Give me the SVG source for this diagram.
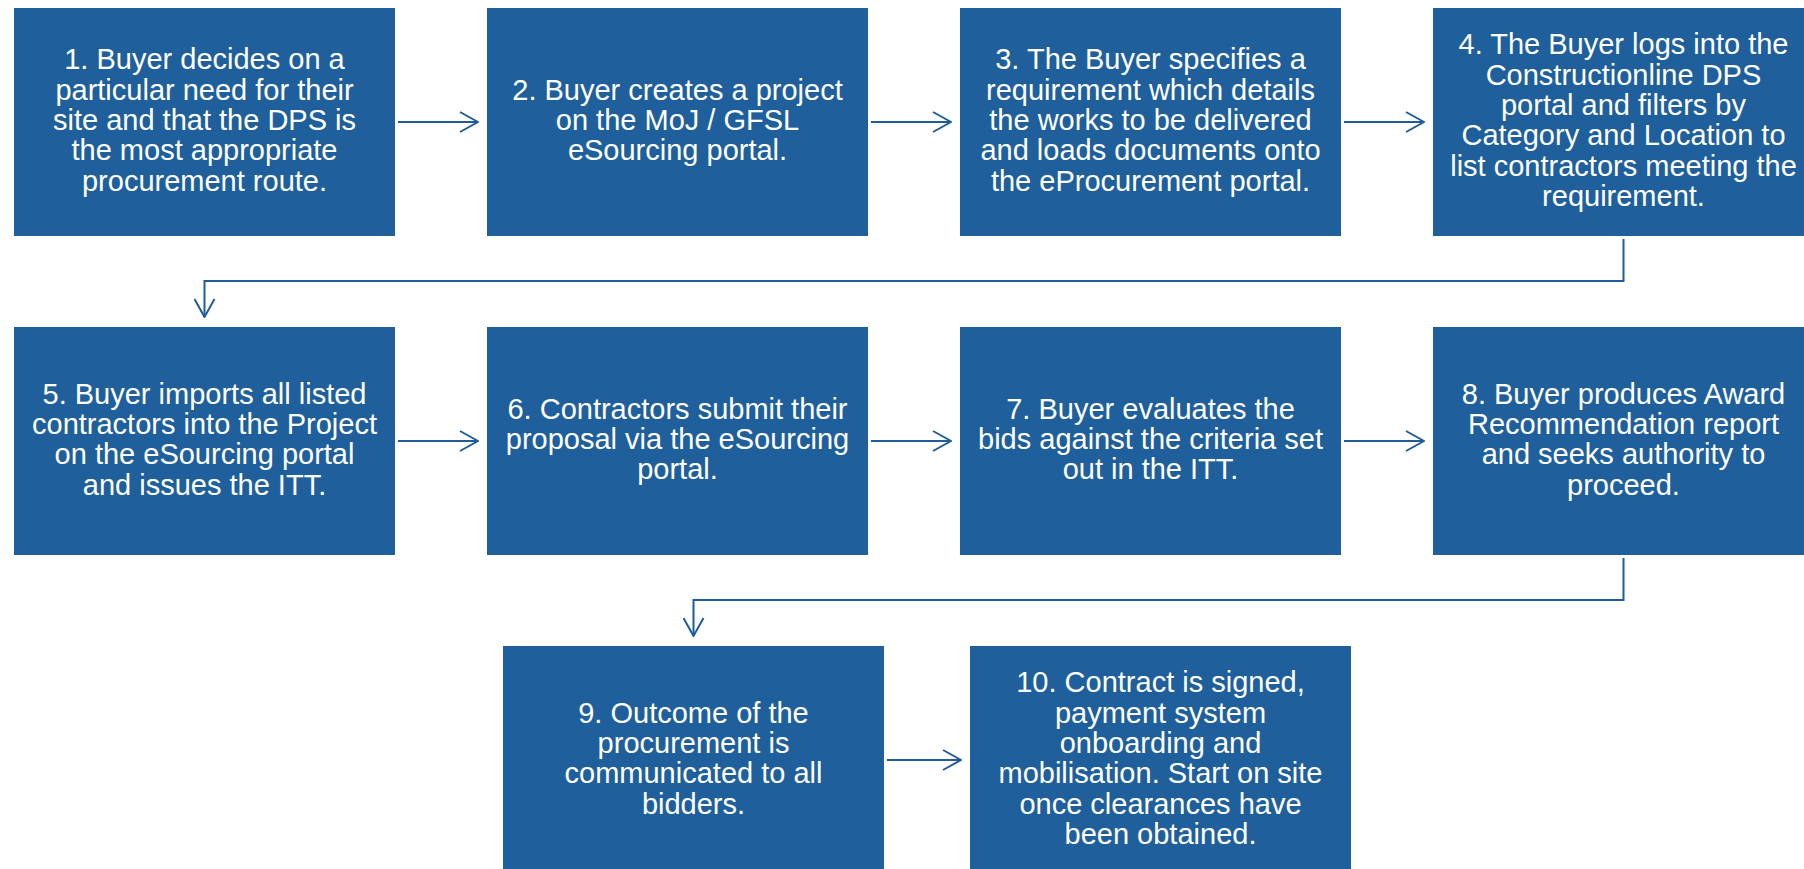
<svg xmlns="http://www.w3.org/2000/svg" width="1804" height="869" viewBox="0 0 1804 869">
<defs>
<style>
.box{fill:#1F5F9C;}
.t{font-family:"Liberation Sans",Arial,sans-serif;font-size:29px;fill:#FFFFFF;text-anchor:middle;}
.c{fill:none;stroke:#1F5C99;stroke-width:2;}
</style>
<marker id="ah" viewBox="0 0 20 22" refX="19" refY="11" markerWidth="20" markerHeight="22" markerUnits="userSpaceOnUse" orient="auto">
<path d="M1,1 L19,11 L1,21" fill="none" stroke="#1F5C99" stroke-width="2"/>
</marker>
</defs>
<rect width="1804" height="869" fill="#FFFFFF"/>
<g id="connectors">
<path class="c" d="M398,122 H478" marker-end="url(#ah)"/>
<path class="c" d="M871,122 H951" marker-end="url(#ah)"/>
<path class="c" d="M1344,122 H1424" marker-end="url(#ah)"/>
<path class="c" d="M1623.5,239 V281 H204.5 V317" marker-end="url(#ah)"/>
<path class="c" d="M398,441 H478" marker-end="url(#ah)"/>
<path class="c" d="M871,441 H951" marker-end="url(#ah)"/>
<path class="c" d="M1344,441 H1424" marker-end="url(#ah)"/>
<path class="c" d="M1623.5,558 V600 H693.5 V636" marker-end="url(#ah)"/>
<path class="c" d="M887,760 H961" marker-end="url(#ah)"/>
</g>
<g id="node1">
<rect class="box" x="14" y="8" width="381" height="228"/>
<text class="t"><tspan x="204.5" y="69.4">1. Buyer decides on a</tspan><tspan x="204.5" y="99.7">particular need for their</tspan><tspan x="204.5" y="130">site and that the DPS is</tspan><tspan x="204.5" y="160.3">the most appropriate</tspan><tspan x="204.5" y="190.6">procurement route.</tspan></text>
</g>
<g id="node2">
<rect class="box" x="487" y="8" width="381" height="228"/>
<text class="t"><tspan x="677.5" y="99.7">2. Buyer creates a project</tspan><tspan x="677.5" y="130">on the MoJ / GFSL</tspan><tspan x="677.5" y="160.3">eSourcing portal.</tspan></text>
</g>
<g id="node3">
<rect class="box" x="960" y="8" width="381" height="228"/>
<text class="t"><tspan x="1150.5" y="69.4">3. The Buyer specifies a</tspan><tspan x="1150.5" y="99.7">requirement which details</tspan><tspan x="1150.5" y="130">the works to be delivered</tspan><tspan x="1150.5" y="160.3">and loads documents onto</tspan><tspan x="1150.5" y="190.6">the eProcurement portal.</tspan></text>
</g>
<g id="node4">
<rect class="box" x="1433" y="8" width="381" height="228"/>
<text class="t"><tspan x="1623.5" y="54.3">4. The Buyer logs into the</tspan><tspan x="1623.5" y="84.6">Constructionline DPS</tspan><tspan x="1623.5" y="114.9">portal and filters by</tspan><tspan x="1623.5" y="145.2">Category and Location to</tspan><tspan x="1623.5" y="175.5">list contractors meeting the</tspan><tspan x="1623.5" y="205.8">requirement.</tspan></text>
</g>
<g id="node5">
<rect class="box" x="14" y="327" width="381" height="228"/>
<text class="t"><tspan x="204.5" y="403.6">5. Buyer imports all listed</tspan><tspan x="204.5" y="433.9">contractors into the Project</tspan><tspan x="204.5" y="464.2">on the eSourcing portal</tspan><tspan x="204.5" y="494.5">and issues the ITT.</tspan></text>
</g>
<g id="node6">
<rect class="box" x="487" y="327" width="381" height="228"/>
<text class="t"><tspan x="677.5" y="418.7">6. Contractors submit their</tspan><tspan x="677.5" y="449">proposal via the eSourcing</tspan><tspan x="677.5" y="479.3">portal.</tspan></text>
</g>
<g id="node7">
<rect class="box" x="960" y="327" width="381" height="228"/>
<text class="t"><tspan x="1150.5" y="418.7">7. Buyer evaluates the</tspan><tspan x="1150.5" y="449">bids against the criteria set</tspan><tspan x="1150.5" y="479.3">out in the ITT.</tspan></text>
</g>
<g id="node8">
<rect class="box" x="1433" y="327" width="381" height="228"/>
<text class="t"><tspan x="1623.5" y="403.6">8. Buyer produces Award</tspan><tspan x="1623.5" y="433.9">Recommendation report</tspan><tspan x="1623.5" y="464.2">and seeks authority to</tspan><tspan x="1623.5" y="494.5">proceed.</tspan></text>
</g>
<g id="node9">
<rect class="box" x="503" y="646" width="381" height="228"/>
<text class="t"><tspan x="693.5" y="722.6">9. Outcome of the</tspan><tspan x="693.5" y="752.9">procurement is</tspan><tspan x="693.5" y="783.2">communicated to all</tspan><tspan x="693.5" y="813.5">bidders.</tspan></text>
</g>
<g id="node10">
<rect class="box" x="970" y="646" width="381" height="228"/>
<text class="t"><tspan x="1160.5" y="692.3">10. Contract is signed,</tspan><tspan x="1160.5" y="722.6">payment system</tspan><tspan x="1160.5" y="752.9">onboarding and</tspan><tspan x="1160.5" y="783.2">mobilisation. Start on site</tspan><tspan x="1160.5" y="813.5">once clearances have</tspan><tspan x="1160.5" y="843.8">been obtained.</tspan></text>
</g>
</svg>
